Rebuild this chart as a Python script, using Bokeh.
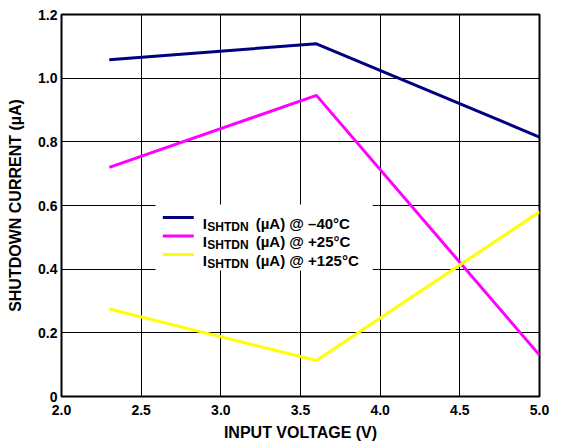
from bokeh.plotting import figure
from bokeh.models import Range1d, FixedTicker, Label
from bokeh.embed import file_html
from bokeh.resources import INLINE

# ---- data ----
voltage = [2.3, 3.6, 5.0]
i_m40 = [1.058, 1.108, 0.815]
i_p25 = [0.72, 0.946, 0.13]
i_p125 = [0.275, 0.113, 0.58]
x_ticks = [2.0, 2.5, 3.0, 3.5, 4.0, 4.5, 5.0]
x_tick_labels = ["2.0", "2.5", "3.0", "3.5", "4.0", "4.5", "5.0"]
y_ticks = [0.0, 0.2, 0.4, 0.6, 0.8, 1.0, 1.2]
y_tick_labels = ["0", "0.2", "0.4", "0.6", "0.8", "1.0", "1.2"]
series_colors = ["#000080", "#ff00ff", "#ffff00"]
legend_temps = ["(µA) @ –40°C", "(µA) @ +25°C", "(µA) @ +125°C"]

FONT = "Liberation Sans"

p = figure(width=567, height=448, output_backend="svg", toolbar_location=None,
           x_range=Range1d(2.0, 5.0), y_range=Range1d(0.0, 1.2),
           min_border_left=61, min_border_right=28, min_border_top=14,
           min_border_bottom=52)
p.background_fill_color = "white"
p.border_fill_color = "white"
p.outline_line_color = "black"
p.outline_line_width = 2

# axes
p.xaxis.ticker = FixedTicker(ticks=x_ticks)
p.yaxis.ticker = FixedTicker(ticks=y_ticks)
p.xaxis.major_label_overrides = dict(zip(x_ticks, x_tick_labels))
p.yaxis.major_label_overrides = dict(zip(y_ticks, y_tick_labels))
for ax in (p.xaxis, p.yaxis):
    ax.axis_line_color = None
    ax.major_tick_line_color = None
    ax.minor_tick_line_color = None
    ax.major_tick_out = 0
    ax.major_tick_in = 0
    ax.major_label_text_font = FONT
    ax.major_label_text_font_style = "bold"
    ax.major_label_text_font_size = "14px"
    ax.major_label_text_color = "black"
    ax.axis_label_text_font = FONT
    ax.axis_label_text_font_style = "bold"
    ax.axis_label_text_font_size = "16px"
    ax.axis_label_text_color = "black"
p.xaxis.axis_label = "INPUT VOLTAGE (V)"
p.yaxis.axis_label = "SHUTDOWN CURRENT (µA)"
p.xaxis.major_label_standoff = 8
p.xaxis.axis_label_standoff = 6
p.yaxis.major_label_standoff = 4
p.yaxis.axis_label_standoff = 11

# grid
p.xgrid.ticker = FixedTicker(ticks=x_ticks)
p.ygrid.ticker = FixedTicker(ticks=y_ticks)
for g in (p.xgrid, p.ygrid):
    g.grid_line_color = "black"
    g.grid_line_width = 1
    g.grid_line_alpha = 1.0

# legend background (covers the grid)
p.quad(left=[2.59], right=[3.953], top=[0.603], bottom=[0.396],
       fill_color="white", line_color=None)

# data lines
for ys, c in zip([i_m40, i_p25, i_p125], series_colors):
    p.line(voltage, ys, line_width=3, line_color=c)

# manual legend
row_y = [0.562, 0.504, 0.446]
for ry, c, t in zip(row_y, series_colors, legend_temps):
    p.segment(x0=[2.636], x1=[2.83], y0=[ry], y1=[ry], line_color=c, line_width=3)
    common = dict(x=2.886, y=ry, text_font=FONT, text_font_style="bold",
                  text_color="black", text_baseline="alphabetic", text_align="left")
    p.add_layout(Label(text="I", x_offset=0, y_offset=-5.5, text_font_size="15px", **common))
    p.add_layout(Label(text="SHTDN", x_offset=4.6, y_offset=-9, text_font_size="12px", **common))
    p.add_layout(Label(text=t, x_offset=53, y_offset=-5.5, text_font_size="15px", **common))

# figure code note
p.add_layout(Label(text="07774-014", x=5.113, y=-0.07, angle=1.5708,
                   text_font=FONT, text_font_size="10px",
                   text_color="black", text_align="center", text_baseline="middle"))

open("out.html", "w").write(file_html(p, INLINE))
